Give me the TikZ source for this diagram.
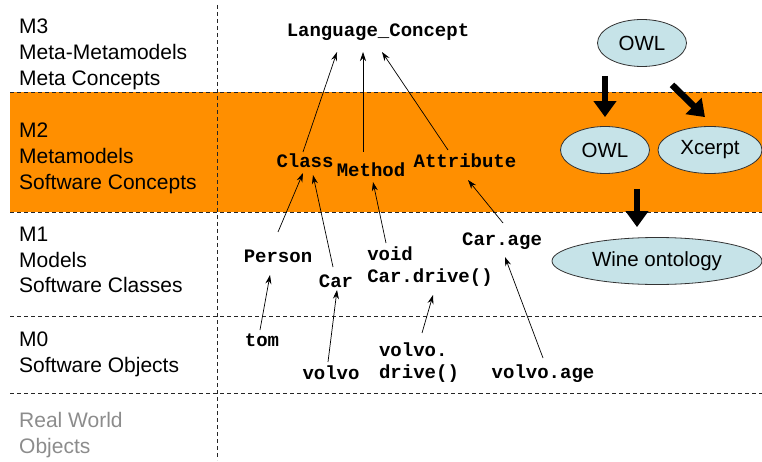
\documentclass[tikz,border=0pt]{standalone}
\usepackage{fontspec}
\setmainfont{Liberation Sans}
\setmonofont{Liberation Mono}
\usetikzlibrary{shapes.geometric,arrows.meta,calc}
\definecolor{bandorange}{RGB}{255,143,0}
\definecolor{ovalblue}{RGB}{198,227,232}
\definecolor{worldgray}{RGB}{140,140,140}
\tikzset{
  levellabel/.style={anchor=north west,align=left,inner sep=0pt,
    font=\fontsize{21}{25.6}\selectfont},
  code/.style={inner sep=0pt,align=left,
    font=\fontsize{19}{22}\selectfont\ttfamily\bfseries},
  oval/.style={ellipse,draw=black!80,line width=0.8pt,fill=ovalblue,inner sep=0pt,
    minimum height=47pt,font=\fontsize{20.5}{24}\selectfont},
  sep/.style={dash pattern=on 4pt off 3pt,line width=0.8pt,black!85},
  instof/.style={-{Stealth[length=9pt,width=6pt]},line width=0.7pt},
  bigarrow/.style={-{Triangle[length=16pt,width=22pt]},line width=6.5pt}
}
\begin{document}
\begin{tikzpicture}[x=1pt,y=-1pt]
\useasboundingbox (0,0) rectangle (762,462);
% M2 band
\fill[bandorange] (10,92.5) rectangle (762,212);
% level separators
\draw[sep] (10,92.5) -- (762,92.5);
\draw[sep] (10,212) -- (762,212);
\draw[sep] (10,316) -- (762,316);
\draw[sep] (10,393) -- (762,393);
\draw[sep] (217,5) -- (217,460);

% level captions
\node[levellabel] (m3) at (19,19) {M3\\Meta-Metamodels\\Meta Concepts};
\node[levellabel] (m2) at (19,123) {M2\\Metamodels\\Software Concepts};
\node[levellabel] (m1) at (19,227) {M1\\Models\\Software Classes};
\node[levellabel] (m0) at (19,332) {M0\\Software Objects};
\node[levellabel,text=worldgray] (rw) at (19,412) {Real World\\Objects};

% M3
\node[code] (lc) at (378,32) {Language\_Concept};
% M2
\node[code] (class) at (305,161) {Class};
\node[code] (method) at (371,170) {Method};
\node[code] (attr) at (465,161) {Attribute};
% M1
\node[code] (person) at (278,256) {Person};
\node[code] (car) at (336,281) {Car};
\node[code] (drive) at (430,267) {void\\Car.drive()};
\node[code] (carage) at (502,241) {Car.age};
% M0
\node[code] (tom) at (262,340) {tom};
\node[code] (volvo) at (331,373) {volvo};
\node[code] (vdrive) at (419,363) {volvo.\\drive()};
\node[code] (vage) at (543,374) {volvo.age};

% instance-of links
\draw[instof] ($(class)+(-2,-9)$) -- ($(lc)+(-41,20)$);
\draw[instof] ($(method)+(-8,-18)$) -- ($(lc)+(-15,20)$);
\draw[instof] ($(attr)+(-17,-11)$) -- ($(lc)+(4,20)$);
\draw[instof] ($(person)+(0,-24)$) -- ($(class)+(-2,12)$);
\draw[instof] ($(car)+(-3,-14)$) -- ($(class)+(8,14)$);
\draw[instof] ($(drive)+(-44,-24)$) -- ($(method)+(2,12)$);
\draw[instof] ($(carage)+(1,-18)$) -- ($(attr)+(3,19)$);
\draw[instof] ($(tom)+(-2,-10)$) -- ($(person)+(-8,19)$);
\draw[instof] ($(volvo)+(-3,-11)$) -- ($(car)+(1,9)$);
\draw[instof] ($(vdrive)+(3,-30)$) -- ($(drive)+(3,28)$);
\draw[instof] ($(vage)+(0,-16)$) -- ($(carage)+(3,16)$);

% ontology ovals
\node[oval,minimum width=89pt] (owl3) at (642,43) {OWL};
\node[oval,minimum width=89pt] (owl2) at (605,150) {OWL};
\node[oval,minimum width=104pt] (xcerpt) at (710,150) {Xcerpt};
\node[oval,minimum width=210pt] (wine) at (657,261) {Wine ontology};

\draw[bigarrow,shorten <=9pt,shorten >=9pt] (owl3.south -| owl2.north) -- (owl2.north);
\draw[bigarrow] ($(owl3.south)+(30,18)$) -- ($(xcerpt.north)+(-5,-9)$);
\draw[bigarrow] ($(owl2.south)+(32,15)$) -- ($(wine.north)+(-20,-10)$);
\end{tikzpicture}
\end{document}
